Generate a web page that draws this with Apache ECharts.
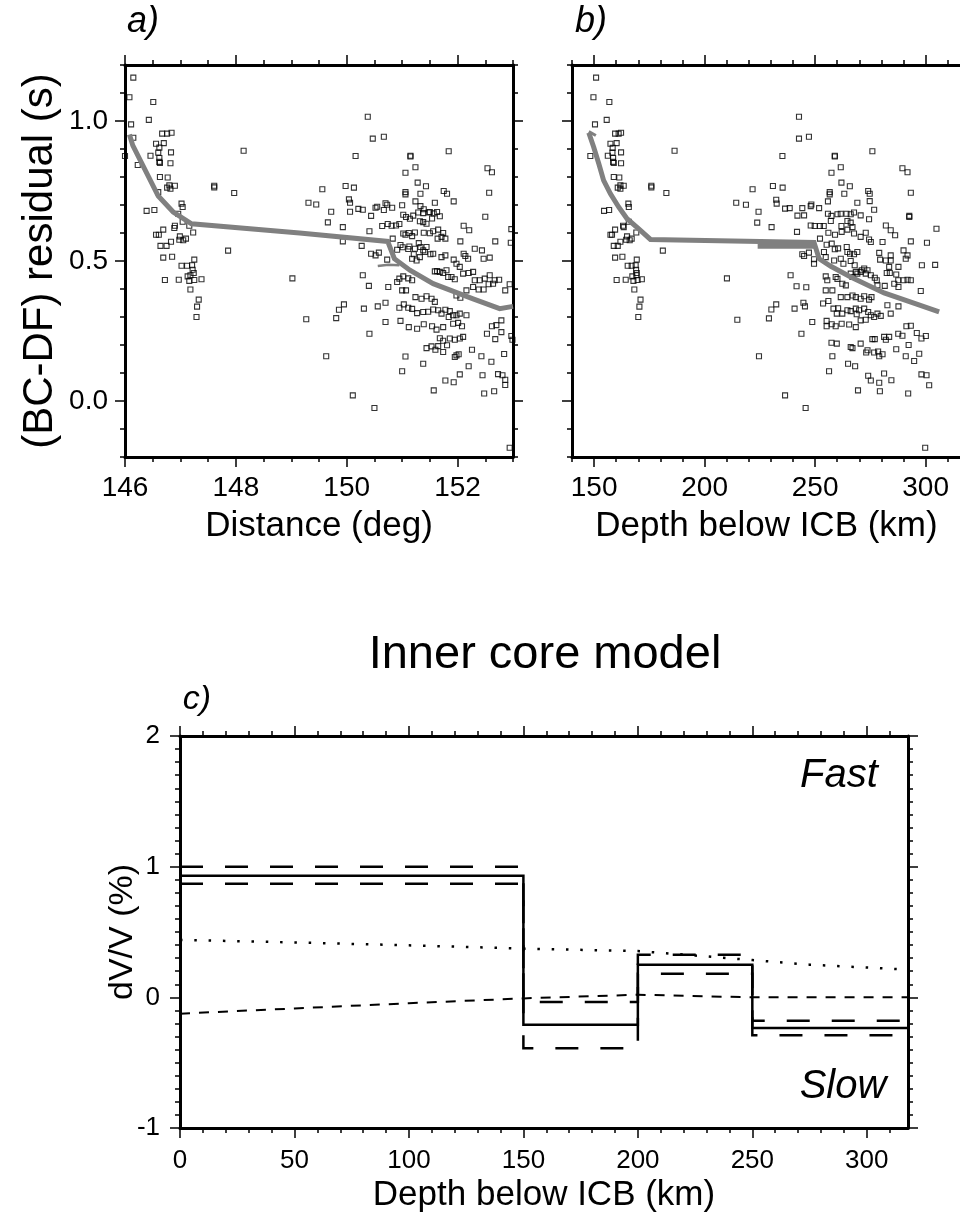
<!DOCTYPE html>
<html><head><meta charset="utf-8">
<script src="https://cdn.jsdelivr.net/npm/echarts@6/dist/echarts.min.js"></script>
<style>html,body{margin:0;padding:0;background:#fff}#chart{width:960px;height:1219px}</style>
</head><body><div id="chart"></div>
<script>
const FONT = '"Liberation Sans", Arial, Helvetica, sans-serif';

// ---------------- data ----------------
const distanceTicks = [146, 148, 150, 152];
const depthTicksB = [150, 200, 250, 300];
const residualTicks = [0.0, 0.5, 1.0];
const depthTicksC = [0, 50, 100, 150, 200, 250, 300];
const dvTicks = [-1, 0, 1, 2];

// panel a: [distance (deg), residual (s)]
const scatterDistance = [
[146.15,1.155],[146.08,1.085],[146.51,1.068],[146.11,0.988],[146.43,1.004],
[146.67,0.955],[146.76,0.955],[146.84,0.958],[146.15,0.94],[146.56,0.919],[146.70,0.921],[146.62,0.905],
[146.0,0.875],[146.46,0.876],[146.60,0.887],[146.83,0.888],[146.62,0.868],[146.62,0.854],[146.63,0.85],[146.82,0.849],[146.23,0.843],
[146.63,0.80],[146.77,0.798],[146.80,0.77],[146.90,0.769],[146.76,0.762],[146.82,0.758],[146.60,0.746],
[147.61,0.769],[147.61,0.763],[148.14,0.894],[147.97,0.743],
[147.02,0.705],[147.04,0.693],[146.39,0.679],[146.53,0.682],[146.96,0.669],[147.04,0.64],
[146.90,0.626],[146.89,0.618],[147.16,0.626],[146.69,0.612],[147.23,0.602],[146.56,0.594],[146.61,0.594],
[146.99,0.588],[146.98,0.576],[147.05,0.574],[147.10,0.58],[146.83,0.569],[146.64,0.554],[146.75,0.554],
[147.86,0.537],[146.69,0.512],[146.85,0.515],[147.25,0.505],
[147.02,0.483],[147.12,0.483],[147.21,0.485],[147.22,0.469],[147.24,0.457],
[147.13,0.445],[147.18,0.449],[147.16,0.429],
[146.72,0.432],[146.97,0.433],[147.25,0.432],[147.38,0.435],
[147.18,0.398],[147.33,0.362],[147.30,0.337],[147.29,0.30],
[149.02,0.438],[149.31,0.708],[149.27,0.292],
[150.38,1.015],[150.47,0.937],[150.67,0.944],[151.84,0.892],[150.16,0.875],[151.15,0.876],[151.15,0.873],
[151.24,0.835],[151.06,0.815],[152.54,0.831],[152.62,0.817],[151.28,0.78],[151.43,0.767],
[149.56,0.756],[149.98,0.768],[150.13,0.762],[152.57,0.744],[151.06,0.746],[151.06,0.738],[151.33,0.74],[151.75,0.75],[151.81,0.74],
[149.45,0.702],[150.04,0.72],[150.06,0.708],[151.24,0.713],[151.59,0.708],[151.93,0.713],[151.0,0.699],[151.33,0.696],
[149.72,0.676],[150.06,0.676],[150.21,0.686],[150.29,0.683],[150.55,0.694],[150.52,0.690],
[150.67,0.682],[150.73,0.701],[150.70,0.706],[150.82,0.690],[151.39,0.685],[151.50,0.675],[151.63,0.675],
[149.66,0.638],[149.93,0.621],[150.44,0.661],[150.64,0.625],[150.74,0.632],[150.81,0.626],[150.89,0.627],[150.95,0.632],
[151.02,0.665],[151.07,0.657],[151.20,0.662],[151.14,0.651],
[151.29,0.673],[151.32,0.642],[151.38,0.671],[151.48,0.673],[151.38,0.639],[151.44,0.633],[151.54,0.652],[151.57,0.670],[151.68,0.660],
[152.11,0.626],[152.21,0.61],[152.50,0.658],[152.97,0.614],[150.41,0.606],
[151.02,0.598],[151.06,0.594],[151.12,0.600],[151.23,0.602],[151.18,0.589],
[151.39,0.601],[151.50,0.599],[151.56,0.606],[151.65,0.612],[151.74,0.600],[151.71,0.586],[151.78,0.580],[151.64,0.580],
[150.83,0.58],[149.93,0.57],[150.27,0.554],[152.05,0.57],[152.68,0.57],[152.96,0.565],
[150.44,0.526],[150.52,0.52],[150.58,0.53],
[150.91,0.540],[150.97,0.557],[151.01,0.549],[151.11,0.543],[151.23,0.544],[151.13,0.552],[151.30,0.564],[151.33,0.550],[151.38,0.538],[151.41,0.532],[151.44,0.550],[151.51,0.524],[151.56,0.526],
[150.73,0.505],
[151.21,0.524],[151.18,0.508],[151.32,0.514],[151.26,0.502],
[151.71,0.514],[151.78,0.520],[151.93,0.505],[151.98,0.490],[152.04,0.479],[152.11,0.526],[152.14,0.518],[152.19,0.508],[152.31,0.544],[152.44,0.538],[152.47,0.508],[152.58,0.512],
[150.29,0.449],[150.40,0.411],[150.75,0.407],
[150.91,0.425],[150.95,0.437],[151.02,0.445],[151.11,0.438],[151.18,0.431],
[151.59,0.463],[151.63,0.464],[151.68,0.461],[151.74,0.457],[151.80,0.467],[151.83,0.443],[151.89,0.443],[151.95,0.435],
[152.10,0.455],[152.20,0.457],[152.28,0.461],[152.31,0.431],[152.40,0.431],[152.49,0.437],[152.58,0.449],[152.67,0.431],[152.75,0.433],
[151.0,0.395],[151.07,0.395],
[151.24,0.371],[151.35,0.365],[151.44,0.374],[151.53,0.365],[151.59,0.354],
[151.98,0.377],[152.05,0.369],[152.16,0.395],[152.28,0.407],[152.38,0.398],[152.47,0.398],[152.56,0.417],[152.64,0.419],[152.86,0.395],[152.94,0.417],
[149.81,0.296],[149.86,0.326],[149.95,0.345],[150.31,0.33],[150.56,0.338],[150.70,0.351],
[150.95,0.333],[151.03,0.345],[151.11,0.333],[151.18,0.329],[151.27,0.314],
[151.38,0.318],[151.47,0.319],[151.56,0.327],[151.65,0.324],[151.71,0.312],[151.78,0.326],[151.86,0.321],[151.92,0.306],[151.98,0.306],[152.04,0.312],[152.16,0.306],
[150.70,0.282],[150.97,0.286],[150.41,0.24],
[151.12,0.264],[151.27,0.258],[151.39,0.274],[151.54,0.267],[151.62,0.255],[151.74,0.264],[151.84,0.30],[151.92,0.276],[152.01,0.279],[152.08,0.267],
[152.62,0.267],[152.70,0.271],[152.53,0.240],[152.68,0.221],[152.79,0.246],[152.79,0.288],[152.97,0.232],[152.99,0.219],
[151.68,0.224],[151.65,0.196],[151.74,0.215],[151.86,0.223],[151.95,0.219],[152.04,0.223],[152.10,0.229],[151.81,0.199],[151.53,0.195],[151.44,0.189],[151.60,0.183],
[152.26,0.183],[151.74,0.175],[151.98,0.163],[151.95,0.157],[152.02,0.167],[152.43,0.160],[152.61,0.140],[152.84,0.168],
[149.63,0.16],[151.06,0.159],[151.38,0.133],[151.0,0.106],[151.78,0.073],[151.93,0.067],[152.04,0.095],[152.20,0.124],
[152.45,0.092],[152.73,0.096],[152.81,0.092],[152.86,0.076],[152.86,0.057],
[151.57,0.038],[152.48,0.027],[152.66,0.035],[150.11,0.02],[150.50,-0.025],[152.94,-0.167]
];

// panel b: [depth below ICB (km), residual (s)]
const scatterDepth = [
[150.9,1.155],[149.7,1.085],[156.9,1.068],[150.4,0.988],[155.7,1.004],[159.5,0.955],[161.1,0.955],[162.2,0.958],
[157.4,0.919],[160.2,0.921],[158.4,0.904],[148.3,0.875],[156.2,0.876],[158.3,0.887],[162.2,0.888],[158.6,0.868],[158.6,0.854],[158.9,0.85],[162.2,0.849],
[158.9,0.80],[161.4,0.798],[161.9,0.77],[163.4,0.769],[160.7,0.762],[161.9,0.758],
[175.9,0.769],[175.9,0.763],[186.4,0.894],[182.7,0.743],
[165.5,0.705],[165.7,0.693],[154.5,0.679],[156.8,0.682],[165.7,0.64],[163.1,0.626],[163.4,0.621],[169.1,0.602],[159.5,0.612],[157.4,0.594],[158.1,0.594],
[164.9,0.588],[164.5,0.576],[166.1,0.574],[167.0,0.58],[161.9,0.569],[158.9,0.554],[160.7,0.554],
[181.1,0.537],[159.5,0.512],[162.8,0.515],[169.3,0.505],
[165.2,0.483],[167.0,0.483],[168.8,0.485],[169.0,0.469],[169.3,0.457],
[167.3,0.445],[169.1,0.449],[167.8,0.429],
[160.2,0.432],[164.3,0.433],[169.7,0.432],[171.6,0.435],
[168.2,0.398],[171.0,0.362],[170.5,0.337],[170.0,0.30],
[210.1,0.438],[214.8,0.29],[214.3,0.708],[218.7,0.701],
[242.7,1.015],[242.7,0.937],[247.2,0.944],[275.9,0.892],[235.2,0.875],[258.9,0.876],[258.9,0.873],
[261.6,0.835],[257.4,0.815],[289.5,0.831],[291.8,0.817],[261.9,0.78],[265.7,0.767],
[221.7,0.756],[230.9,0.768],[235.3,0.762],[293.3,0.744],[256.6,0.746],[256.6,0.738],[263.2,0.74],[274.0,0.75],[274.7,0.74],
[224.4,0.676],[223.8,0.637],[232.4,0.719],[232.6,0.705],[255.8,0.713],[269.1,0.708],[274.7,0.714],[292.6,0.661],[304.9,0.615],[300.6,0.565],
[236.4,0.687],[238.5,0.689],[244.2,0.689],[245.0,0.663],[248.3,0.702],[248.0,0.696],[251.8,0.689],[242.0,0.662],[230.3,0.621],[241.8,0.604],
[248.0,0.627],[249.8,0.625],[252.2,0.625],[253.9,0.625],
[255.8,0.669],[257.4,0.661],[260.1,0.667],[257.1,0.643],[261.6,0.669],[264.2,0.669],[266.1,0.667],[267.6,0.673],[270.6,0.663],[274.4,0.649],[276.7,0.683],
[266.1,0.637],[264.6,0.643],[261.9,0.625],[266.9,0.621],
[282.0,0.627],[284.2,0.610],[286.2,0.592],[292.6,0.657],
[256.0,0.601],[259.0,0.594],[262.0,0.604],[264.6,0.612],[267.6,0.598],[270.6,0.586],[272.9,0.601],[274.4,0.577],[275.2,0.568],
[252.2,0.58],[280.5,0.568],[293.3,0.57],
[255.2,0.558],[257.5,0.562],[258.9,0.542],[260.4,0.545],[264.3,0.55],[264.6,0.532],[265.8,0.526],[267.6,0.524],[269.1,0.532],
[254.0,0.532],[254.8,0.514],[249.5,0.506],[249.5,0.490],[244.2,0.524],[245.0,0.518],[247.2,0.530],
[258.6,0.502],[261.6,0.508],[262.8,0.490],[266.1,0.500],[267.9,0.485],[270.6,0.461],[272.2,0.473],[273.7,0.467],[272.9,0.455],[275.2,0.449],
[279.0,0.529],[279.4,0.505],[282.0,0.502],[284.2,0.520],[284.2,0.502],[287.7,0.479],[290.0,0.538],[291.0,0.508],[291.8,0.520],
[283.5,0.479],[282.4,0.457],[283.8,0.457],[286.7,0.452],[287.6,0.431],[290.0,0.431],[291.8,0.433],[293.3,0.431],[297.8,0.393],[298.3,0.485],[304.3,0.486],
[238.9,0.449],[241.6,0.41],[246.0,0.406],
[254.8,0.445],[255.5,0.431],[254.8,0.395],[257.8,0.395],[259.3,0.443],[260.1,0.436],[262.3,0.419],[263.9,0.413],
[266.1,0.455],[266.9,0.443],[268.4,0.461],[269.1,0.455],[271.1,0.467],
[277.0,0.440],[277.9,0.431],[278.2,0.413],[281.5,0.411],
[285.8,0.419],[287.7,0.407],
[261.6,0.371],[264.6,0.371],[266.9,0.377],[268.4,0.371],[270.6,0.365],[272.2,0.374],[274.4,0.362],[275.5,0.371],
[262.3,0.312],[264.6,0.324],[266.1,0.321],[268.4,0.330],[268.8,0.310],[269.9,0.324],[272.2,0.330],[274.0,0.318],[275.2,0.306],[276.7,0.30],[278.2,0.312],[279.7,0.304],[282.7,0.342],[284.2,0.312],[287.7,0.338],
[253.6,0.348],[256.0,0.357],[258.3,0.330],[260.4,0.331],[259.8,0.312],
[230.2,0.327],[232.4,0.345],[229.1,0.295],[240.7,0.330],[244.7,0.351],[245.4,0.338],
[248.7,0.282],[255.2,0.286],[255.2,0.267],[257.5,0.274],[259.3,0.267],[262.0,0.276],[265.4,0.273],[268.4,0.264],[270.6,0.288],[272.9,0.29],
[243.8,0.24],[257.4,0.208],[259.8,0.205],[266.1,0.193],[266.9,0.189],[270.6,0.205],[273.7,0.181],[273.1,0.173],[275.9,0.221],[277.0,0.221],[278.5,0.177],[279.0,0.16],[280.5,0.167],[281.2,0.229],[282.0,0.219],[283.5,0.229],[287.6,0.24],[289.5,0.233],[291.3,0.267],[293.3,0.269],[296.0,0.243],[298.1,0.223],[300.1,0.232],
[224.6,0.16],
[257.8,0.16],[264.9,0.133],[268.1,0.124],[276.7,0.173],[286.7,0.185],[292.3,0.2],[291.0,0.16],[294.8,0.143],[297.1,0.169],
[256.3,0.106],
[274.0,0.09],[275.2,0.073],[279.0,0.065],[281.2,0.098],[284.5,0.074],
[298.1,0.095],[300.4,0.092],[301.6,0.056],
[269.4,0.038],[279.3,0.035],[292.1,0.027],
[236.4,0.02],[245.7,-0.025],[299.8,-0.167]
];

// grey trend curves
const trendDistance = [[146.08,0.952],[146.14,0.913],[146.60,0.732],[146.87,0.675],[147.20,0.633],[149.15,0.600],[150.74,0.570],[150.86,0.508],[151.14,0.467],[151.56,0.419],[152.28,0.365],[152.76,0.330],[153.0,0.338]];
const trendDistanceSliver = [[150.56,0.482],[150.75,0.487],[150.95,0.485]];
const trendDepth = [[147.6,0.958],[149.8,0.907],[152.1,0.848],[154.3,0.788],[157.4,0.740],[161.1,0.693],[164.9,0.651],[170.2,0.615],[175.5,0.577],[225.3,0.570],[249.5,0.566],[251.8,0.508],[257.1,0.481],[266.1,0.443],[281.2,0.386],[296.3,0.345],[306.1,0.318]];
const trendDepthBand = [[224.0,0.553],[250.0,0.553]];
const trendDepthHook = [[147.6,0.962],[150.8,0.948]];

// panel c: inner core model
const layerEdges = [0, 150, 200, 250, 318];
const modelDv = [0.93, -0.21, 0.25, -0.235];
const upperDv = [1.0, -0.035, 0.325, -0.18];
const lowerDv = [0.87, -0.39, 0.18, -0.29];
const dottedDepth = [0, 50, 100, 150, 200, 225, 250, 275, 300, 318];
const dottedDv = [0.44, 0.42, 0.398, 0.373, 0.354, 0.32, 0.285, 0.25, 0.228, 0.212];
const dashedDepth = [0, 50, 100, 150, 200, 250, 318];
const dashedDv = [-0.125, -0.085, -0.045, -0.008, 0.02, 0.0, 0.0];

// ---------------- helpers ----------------
function tickList(min, max, step) {
  const a = [];
  for (let v = Math.ceil(min / step - 1e-9) * step; v <= max + 1e-9; v += step) a.push(+v.toFixed(6));
  return a;
}
function stepData(edges, vals) {
  const d = vals.map((v, i) => [edges[i], v]);
  d.push([edges[edges.length - 1], vals[vals.length - 1]]);
  return d;
}
const zip = (xs, ys) => xs.map((x, i) => [x, ys[i]]);

const AXIS_W = 3, TICK_W = 1.5, MAJ = 10, MIN = 5;
const lineSt = { color: '#000', width: AXIS_W };
const tickSt = { color: '#000', width: TICK_W };
const xAxes = [], yAxes = [];

function axisSet(list, grid, min, max, majors, minorStep, sides, label) {
  const idx = list.length;
  const base = { gridIndex: grid, type: 'value', min, max, splitLine: { show: false }, silent: true };
  sides.forEach((side, k) => {
    const main = k === 0 && label;
    list.push(Object.assign({}, base, {
      position: side,
      axisLine: { show: true, onZero: false, lineStyle: lineSt },
      axisTick: { show: true, inside: false, length: MAJ, lineStyle: tickSt, customValues: majors },
      axisLabel: main ? Object.assign({ show: true, customValues: majors, color: '#000', fontFamily: FONT }, label.style) : { show: false },
      name: main ? label.name : '',
      nameLocation: 'middle', nameGap: main ? label.nameGap : 0,
      nameRotate: main ? label.nameRotate : 0,
      nameMoveOverlap: false,
      nameTextStyle: { color: '#000', fontFamily: FONT, fontSize: main ? label.nameSize : 12 }
    }));
    list.push(Object.assign({}, base, {
      position: side,
      axisLine: { show: false, onZero: false },
      axisTick: { show: true, inside: false, length: MIN, lineStyle: tickSt, customValues: tickList(min, max, minorStep) },
      axisLabel: { show: false }
    }));
  });
  return idx;
}

const grids = [
  { left: 125, top: 65, width: 388, height: 392, outerBoundsMode: 'none', containLabel: false },
  { left: 572, top: 65, width: 389, height: 392, outerBoundsMode: 'none', containLabel: false },
  { left: 180, top: 736, width: 728, height: 392, outerBoundsMode: 'none', containLabel: false }
];

const resFmt = v => v.toFixed(1);
// panel a
const xa = axisSet(xAxes, 0, 146, 153, distanceTicks, 0.5, ['bottom', 'top'],
  { name: 'Distance (deg)', nameGap: 52, nameSize: 35, nameRotate: 0, style: { fontSize: 28, margin: 17 } });
const ya = axisSet(yAxes, 0, -0.2, 1.2, residualTicks, 0.1, ['left', 'right'],
  { name: '(BC-DF) residual (s)', nameGap: 64, nameSize: 42, nameRotate: 90, style: { fontSize: 28, margin: 17, formatter: resFmt } });
// panel b
const xb = axisSet(xAxes, 1, 140, 316, depthTicksB, 10, ['bottom', 'top'],
  { name: 'Depth below ICB (km)', nameGap: 52, nameSize: 35, nameRotate: 0, style: { fontSize: 28, margin: 17 } });
const yb = axisSet(yAxes, 1, -0.2, 1.2, residualTicks, 0.1, ['left'], null);
// panel c
const xc = axisSet(xAxes, 2, 0, 318, depthTicksC, 10, ['bottom', 'top'],
  { name: 'Depth below ICB (km)', nameGap: 50, nameSize: 35, nameRotate: 0, style: { fontSize: 26, margin: 20 } });
const yc = axisSet(yAxes, 2, -1, 2, dvTicks, 0.1, ['left', 'right'],
  { name: 'dV/V (%)', nameGap: 40, nameSize: 34, nameRotate: 90, style: { fontSize: 26, margin: 20 } });

const sq = { symbol: 'rect', symbolSize: 5, itemStyle: { color: 'rgba(0,0,0,0)', borderColor: '#000', borderWidth: 1.1 } };
const grey = (data, w) => ({ type: 'line', data, symbol: 'none', silent: true, lineStyle: { color: '#808080', width: w, cap: 'butt', join: 'miter' } });
const blk = (data, w, type) => ({ type: 'line', data, symbol: 'none', silent: true, lineStyle: { color: '#000', width: w, type, cap: 'butt', join: 'miter' } });

const series = [
  Object.assign({ type: 'scatter', data: scatterDistance, xAxisIndex: xa, yAxisIndex: ya, silent: true }, sq),
  Object.assign(grey(trendDistance, 5), { xAxisIndex: xa, yAxisIndex: ya }),
  Object.assign(grey(trendDistanceSliver, 2.5), { xAxisIndex: xa, yAxisIndex: ya }),
  Object.assign({ type: 'scatter', data: scatterDepth, xAxisIndex: xb, yAxisIndex: yb, silent: true }, sq),
  Object.assign(grey(trendDepth, 5), { xAxisIndex: xb, yAxisIndex: yb }),
  Object.assign(grey(trendDepthBand, 5), { xAxisIndex: xb, yAxisIndex: yb }),
  Object.assign(grey(trendDepthHook, 3), { xAxisIndex: xb, yAxisIndex: yb }),
  Object.assign(blk(zip(dottedDepth, dottedDv), 2.5, [2.5, 11.8]), { xAxisIndex: xc, yAxisIndex: yc }),
  Object.assign(blk(zip(dashedDepth, dashedDv), 2, [10, 9]), { xAxisIndex: xc, yAxisIndex: yc }),
  Object.assign(blk(stepData(layerEdges, upperDv), 2.5, [23, 22]), { xAxisIndex: xc, yAxisIndex: yc, step: 'end' }),
  Object.assign(blk(stepData(layerEdges, lowerDv), 2.5, [23, 22]), { xAxisIndex: xc, yAxisIndex: yc, step: 'end' }),
  Object.assign(blk(stepData(layerEdges, modelDv), 2.5, 'solid'), { xAxisIndex: xc, yAxisIndex: yc, step: 'end' })
];

const txt = (x, y, text, size, italic) => ({
  type: 'text', x, y, silent: true,
  style: { text, fill: '#000', font: (italic ? 'italic ' : '') + size + 'px ' + FONT, align: 'center', verticalAlign: 'middle' }
});

const chart = echarts.init(document.getElementById('chart'), null, { renderer: 'canvas' });
chart.setOption({
  animation: false,
  backgroundColor: '#fff',
  textStyle: { fontFamily: FONT },
  grid: grids,
  xAxis: xAxes,
  yAxis: yAxes,
  series,
  graphic: [
    txt(143, 22, 'a)', 36, true),
    txt(591, 22, 'b)', 36, true),
    txt(545, 655, 'Inner core model', 47, false),
    txt(197, 700, 'c)', 34, true),
    txt(839, 776, 'Fast', 40, true),
    txt(843, 1087, 'Slow', 40, true)
  ]
});
</script></body></html>
